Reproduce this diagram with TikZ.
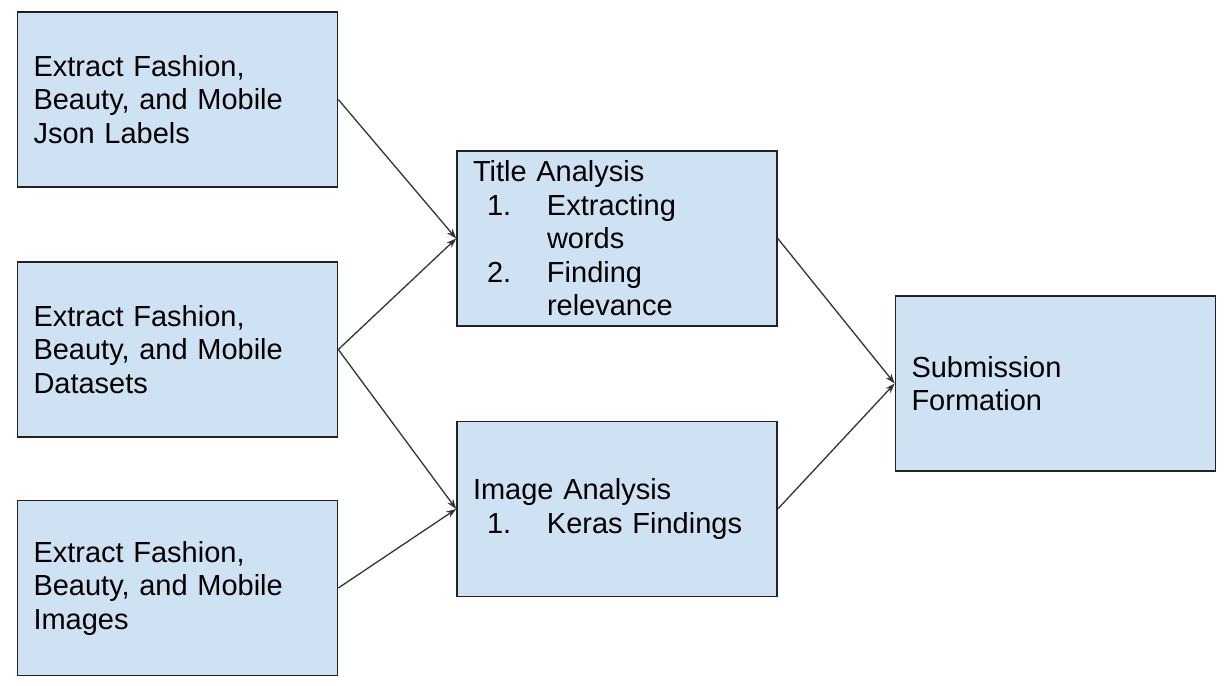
\documentclass[tikz,border=0pt]{standalone}
\usepackage{fontspec}
\setmainfont{Liberation Sans}
\usetikzlibrary{arrows.meta}
\definecolor{boxfill}{HTML}{CFE2F3}
\definecolor{boxline}{HTML}{222222}
\definecolor{arrowline}{HTML}{333333}
\tikzset{
  stagebox/.style={draw=boxline, line width=1.6pt, fill=boxfill,
    minimum width=320pt, minimum height=175pt, inner xsep=16pt, inner ysep=0pt,
    text width=288pt, align=left, font=\fontsize{29}{33.5}\selectfont},
  flowarrow/.style={draw=arrowline, line width=1.3pt, -{Stealth[length=10pt,width=7pt]}}
}
\newcommand{\itemline}[2]{\hspace*{14pt}\makebox[60pt][l]{#1}#2}
\newcommand{\contline}[1]{\hspace*{74pt}#1}
\begin{document}
\begin{tikzpicture}[x=1pt,y=-1pt]
\useasboundingbox (0,0) rectangle (1230,685);
\node[stagebox] (json) at (177.5,99.5) {Extract Fashion,\\Beauty, and Mobile\\Json Labels};
\node[stagebox] (data) at (177.5,349.5) {Extract Fashion,\\Beauty, and Mobile\\Datasets};
\node[stagebox] (imgs) at (177.5,588) {Extract Fashion,\\Beauty, and Mobile\\Images};
\node[stagebox] (title) at (617,238.5) {Title Analysis\\\itemline{1.}{Extracting}\\\contline{words}\\\itemline{2.}{Finding}\\\contline{relevance}};
\node[stagebox] (image) at (617,509) {Image Analysis\\\itemline{1.}{Keras Findings}};
\node[stagebox] (sub) at (1055.5,383.5) {Submission\\Formation};
\draw[flowarrow] (json.east) -- (title.west);
\draw[flowarrow] (data.east) -- (title.west);
\draw[flowarrow] (data.east) -- (image.west);
\draw[flowarrow] (imgs.east) -- (image.west);
\draw[flowarrow] (title.east) -- (sub.west);
\draw[flowarrow] (image.east) -- (sub.west);
\end{tikzpicture}
\end{document}
